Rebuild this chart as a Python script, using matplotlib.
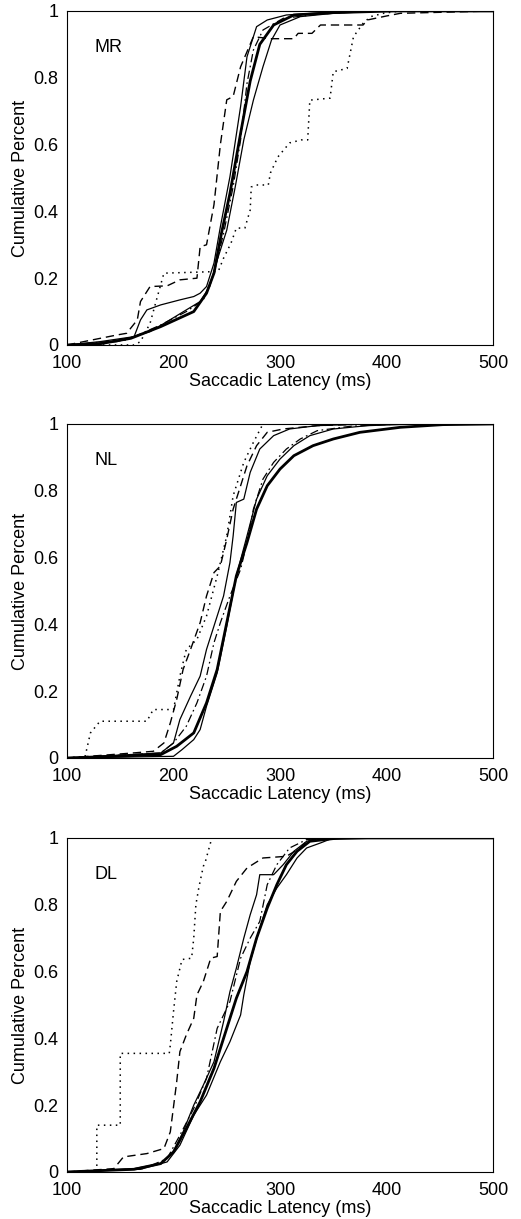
import matplotlib
matplotlib.use('Agg')
import matplotlib.pyplot as plt

plt.rcParams['font.family'] = ['Liberation Sans', 'DejaVu Sans']
plt.rcParams['lines.scale_dashes'] = False

# %% Data (latency in ms, cumulative fraction)
panel_names = ['MR', 'NL', 'DL']
x_ticks = [100, 200, 300, 400, 500]
y_ticks = [0, 0.2, 0.4, 0.6, 0.8, 1]
y_tick_labels = ['0', '0.2', '0.4', '0.6', '0.8', '1']

# MR
mr_thick_x = [100, 130, 160, 188, 219, 231, 238, 245, 253, 263, 272, 281, 294, 313, 350, 407, 500]
mr_thick_y = [0, 0.003, 0.02, 0.055, 0.1, 0.155, 0.215, 0.334, 0.454, 0.634, 0.79, 0.9, 0.958, 0.988, 0.995, 1, 1]
mr_thin_a_x = [100, 131, 163, 169, 175, 188, 206, 219, 225, 231, 238, 244, 253, 263, 269, 278, 288, 306, 350, 413, 500]
mr_thin_a_y = [0, 0.01, 0.025, 0.075, 0.105, 0.12, 0.135, 0.145, 0.155, 0.175, 0.245, 0.354, 0.504, 0.714, 0.863, 0.953, 0.973, 0.988, 0.997, 1, 1]
mr_thin_b_x = [100, 147, 178, 194, 212, 225, 234, 241, 250, 258, 266, 275, 284, 292, 300, 319, 350, 397, 500]
mr_thin_b_y = [0, 0.01, 0.04, 0.07, 0.105, 0.13, 0.175, 0.254, 0.344, 0.474, 0.614, 0.733, 0.833, 0.913, 0.958, 0.983, 0.993, 1, 1]
mr_dash_x = [100, 147, 156, 166, 169, 178, 194, 206, 222, 225, 231, 238, 244, 250, 256, 263, 275, 291, 313, 317, 330, 338, 378, 382, 400, 413, 500]
mr_dash_y = [0, 0.03, 0.035, 0.075, 0.13, 0.175, 0.177, 0.195, 0.2, 0.294, 0.3, 0.42, 0.6, 0.734, 0.744, 0.833, 0.923, 0.917, 0.917, 0.933, 0.933, 0.958, 0.958, 0.973, 0.985, 0.993, 1]
mr_dot_x = [100, 163, 169, 178, 184, 191, 242, 247, 254, 259, 267, 272, 273, 278, 289, 291, 298, 309, 320, 326, 328, 347, 350, 363, 369, 378, 385, 397, 413, 500]
mr_dot_y = [0, 0, 0.01, 0.065, 0.135, 0.215, 0.22, 0.26, 0.305, 0.35, 0.35, 0.404, 0.473, 0.479, 0.479, 0.515, 0.563, 0.605, 0.614, 0.614, 0.733, 0.739, 0.818, 0.828, 0.923, 0.963, 0.983, 0.993, 1, 1]
mr_dashdot_x = [100, 156, 188, 212, 228, 238, 247, 256, 263, 269, 275, 284, 303, 335, 382, 500]
mr_dashdot_y = [0, 0.015, 0.06, 0.1, 0.135, 0.215, 0.334, 0.474, 0.614, 0.783, 0.883, 0.943, 0.978, 0.99, 1, 1]

# NL
nl_thick_x = [100, 188, 203, 219, 231, 241, 250, 259, 269, 278, 288, 300, 313, 331, 350, 375, 413, 453, 500]
nl_thick_y = [0, 0.01, 0.035, 0.075, 0.165, 0.265, 0.405, 0.545, 0.645, 0.745, 0.815, 0.865, 0.905, 0.935, 0.955, 0.975, 0.99, 0.998, 1]
nl_thin_a_x = [100, 188, 200, 206, 216, 225, 231, 238, 247, 253, 256, 259, 266, 272, 281, 294, 309, 335, 382, 500]
nl_thin_a_y = [0, 0.015, 0.045, 0.115, 0.185, 0.245, 0.325, 0.395, 0.485, 0.585, 0.665, 0.765, 0.775, 0.855, 0.925, 0.965, 0.985, 0.995, 1, 1]
nl_thin_b_x = [100, 200, 208, 219, 225, 231, 241, 250, 259, 269, 278, 288, 300, 313, 328, 350, 382, 429, 500]
nl_thin_b_y = [0, 0.005, 0.025, 0.055, 0.085, 0.155, 0.255, 0.395, 0.545, 0.665, 0.775, 0.845, 0.895, 0.935, 0.965, 0.985, 0.995, 1, 1]
nl_dash_x = [100, 162, 181, 191, 197, 203, 209, 216, 225, 231, 238, 244, 250, 256, 263, 269, 278, 288, 303, 335, 382, 500]
nl_dash_y = [0, 0.015, 0.02, 0.045, 0.105, 0.175, 0.265, 0.325, 0.405, 0.485, 0.555, 0.575, 0.655, 0.745, 0.815, 0.875, 0.935, 0.975, 0.985, 0.995, 1, 1]
nl_dot_x = [100, 117, 122, 131, 175, 181, 200, 206, 212, 222, 231, 241, 250, 256, 266, 275, 284, 500]
nl_dot_y = [0, 0.005, 0.075, 0.11, 0.11, 0.145, 0.145, 0.245, 0.325, 0.355, 0.425, 0.545, 0.665, 0.785, 0.885, 0.945, 1, 1]
nl_dashdot_x = [100, 188, 200, 212, 222, 231, 238, 244, 253, 263, 269, 275, 284, 294, 306, 319, 335, 366, 413, 500]
nl_dashdot_y = [0, 0.015, 0.045, 0.095, 0.165, 0.245, 0.345, 0.405, 0.485, 0.565, 0.645, 0.745, 0.835, 0.885, 0.925, 0.955, 0.98, 0.993, 1, 1]

# DL
dl_thick_x = [100, 163, 188, 200, 212, 225, 238, 250, 259, 269, 278, 288, 297, 306, 316, 328, 350, 382, 500]
dl_thick_y = [0, 0.008, 0.025, 0.06, 0.13, 0.21, 0.31, 0.43, 0.52, 0.6, 0.7, 0.79, 0.86, 0.92, 0.96, 0.99, 0.998, 1, 1]
dl_thin_a_x = [100, 163, 188, 200, 209, 219, 228, 238, 247, 253, 259, 266, 272, 278, 281, 294, 303, 313, 325, 338, 500]
dl_thin_a_y = [0, 0.01, 0.025, 0.06, 0.12, 0.2, 0.26, 0.33, 0.45, 0.54, 0.61, 0.7, 0.77, 0.83, 0.89, 0.89, 0.92, 0.96, 0.99, 1, 1]
dl_thin_b_x = [100, 169, 194, 206, 219, 231, 244, 253, 263, 266, 272, 281, 288, 297, 306, 316, 325, 338, 350, 500]
dl_thin_b_y = [0, 0.008, 0.03, 0.08, 0.17, 0.23, 0.33, 0.39, 0.47, 0.53, 0.63, 0.73, 0.8, 0.85, 0.89, 0.94, 0.97, 0.985, 1, 1]
dl_dash_x = [100, 144, 153, 175, 191, 197, 203, 206, 212, 219, 222, 228, 235, 241, 244, 250, 259, 269, 284, 306, 319, 325, 338, 500]
dl_dash_y = [0, 0.01, 0.045, 0.055, 0.07, 0.12, 0.27, 0.36, 0.41, 0.46, 0.53, 0.57, 0.64, 0.645, 0.78, 0.81, 0.87, 0.91, 0.94, 0.945, 0.97, 0.99, 1, 1]
dl_dot_x = [100, 128, 128, 150, 150, 196, 197, 200, 203, 208, 217, 219, 221, 224, 228, 230, 236, 500]
dl_dot_y = [0, 0, 0.14, 0.14, 0.355, 0.355, 0.38, 0.48, 0.57, 0.636, 0.64, 0.70, 0.80, 0.855, 0.915, 0.93, 1.0, 1.0]
dl_dashdot_x = [100, 172, 194, 206, 219, 231, 241, 253, 263, 272, 281, 288, 297, 309, 325, 344, 500]
dl_dashdot_y = [0, 0.01, 0.04, 0.11, 0.19, 0.28, 0.43, 0.51, 0.64, 0.7, 0.75, 0.86, 0.92, 0.97, 0.995, 1, 1]

panel_curves = [
    [(mr_dot_x, mr_dot_y, 'dot'), (mr_dash_x, mr_dash_y, 'dash'), (mr_dashdot_x, mr_dashdot_y, 'dashdot'),
     (mr_thin_a_x, mr_thin_a_y, 'thin'), (mr_thin_b_x, mr_thin_b_y, 'thin'), (mr_thick_x, mr_thick_y, 'thick')],
    [(nl_dot_x, nl_dot_y, 'dot'), (nl_dash_x, nl_dash_y, 'dash'), (nl_dashdot_x, nl_dashdot_y, 'dashdot'),
     (nl_thin_a_x, nl_thin_a_y, 'thin'), (nl_thin_b_x, nl_thin_b_y, 'thin'), (nl_thick_x, nl_thick_y, 'thick')],
    [(dl_dot_x, dl_dot_y, 'dot'), (dl_dash_x, dl_dash_y, 'dash'), (dl_dashdot_x, dl_dashdot_y, 'dashdot'),
     (dl_thin_a_x, dl_thin_a_y, 'thin'), (dl_thin_b_x, dl_thin_b_y, 'thin'), (dl_thick_x, dl_thick_y, 'thick')],
]

styles = {
    'thick': dict(lw=2.0, ls='-'),
    'thin': dict(lw=0.9, ls='-'),
    'dash': dict(lw=1.0, ls=(0, (6, 3.5))),
    'dot': dict(lw=1.1, ls=(0, (1.1, 3.2))),
    'dashdot': dict(lw=0.9, ls=(0, (6, 2.5, 1.2, 2.5))),
}

# %% Plot
fig = plt.figure(figsize=(5.21, 12.19), dpi=100)
bottoms = [0.7170, 0.3782, 0.0386]

for name, curves, b in zip(panel_names, panel_curves, bottoms):
    ax = fig.add_axes([0.1286, b, 0.8177, 0.274])
    for x, y, kind in curves:
        ax.plot(x, y, color='black', **styles[kind])
    ax.set_xlim(100, 500)
    ax.set_ylim(0, 1)
    ax.set_xticks(x_ticks)
    ax.set_yticks(y_ticks)
    ax.set_yticklabels(y_tick_labels)
    ax.tick_params(direction='in', length=0, labelsize=13, pad=6)
    ax.tick_params(axis='x', pad=7)
    for s in ax.spines.values():
        s.set_linewidth(0.8)
    ax.set_xlabel('Saccadic Latency (ms)', fontsize=13, labelpad=1)
    ax.set_ylabel('Cumulative Percent', fontsize=13, labelpad=3)
    ax.text(126, 0.89, name, fontsize=13, va='center', ha='left')

fig.savefig('out.png', dpi=100)
